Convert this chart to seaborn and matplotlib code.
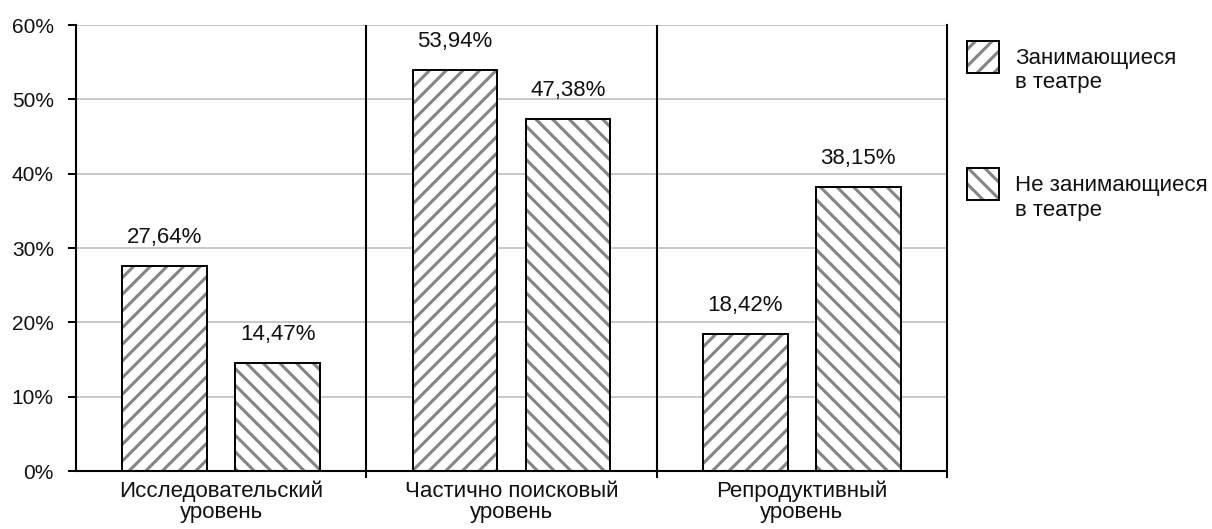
import pandas as pd
import seaborn as sns
import matplotlib.pyplot as plt
import matplotlib.patches as mpatches
from matplotlib.legend_handler import HandlerBase

categories = ['Исследовательский\nуровень', 'Частично поисковый\nуровень', 'Репродуктивный\nуровень']
groups = ['Занимающиеся\nв театре', 'Не занимающиеся\nв театре']
theatre = [27.64, 53.94, 18.42]
no_theatre = [14.47, 47.38, 38.15]
hatches = ['//', '\\\\']

df = pd.DataFrame({
    'category': categories * 2,
    'group': [groups[0]] * 3 + [groups[1]] * 3,
    'value': theatre + no_theatre,
})

sns.set_style('white')
plt.rcParams['font.family'] = ['Liberation Sans', 'DejaVu Sans']
plt.rcParams['hatch.linewidth'] = 2.2

hatch_gray = '#858585'


class HatchBoxHandler(HandlerBase):
    # square swatch sitting level with the first line of a two-line label
    def create_artists(self, legend, orig_handle, xdescent, ydescent, width, height, fontsize, trans):
        side = width
        y0 = fontsize * 0.98 - side / 2
        fill = mpatches.Rectangle((-xdescent, y0), side, side, facecolor='white',
                                  edgecolor=hatch_gray, hatch=orig_handle.get_hatch(),
                                  linewidth=0, transform=trans)
        edge = mpatches.Rectangle((-xdescent, y0), side, side, fill=False,
                                  edgecolor='black', linewidth=1.4, transform=trans)
        return [fill, edge]


fig = plt.figure(figsize=(12.12, 5.29), dpi=100)
ax = fig.add_axes([0.0627, 0.1096, 0.7187, 0.8431])

# bars: edge colour sets the hatch colour, outline drawn on top in black
sns.barplot(data=df, x='category', y='value', hue='group', order=categories,
            hue_order=groups, width=0.778, gap=0.25,
            palette=['white', 'white'], edgecolor=hatch_gray, linewidth=0,
            legend=False, ax=ax)

for container, h in zip(ax.containers, hatches):
    for bar in container:
        bar.set_hatch(h)
        ax.add_patch(mpatches.Rectangle(bar.get_xy(), bar.get_width(), bar.get_height(),
                                        fill=False, edgecolor='black', linewidth=1.4, zorder=4))
    ax.bar_label(container, labels=[f'{v:.2f}%'.replace('.', ',') for v in container.datavalues],
                 padding=13, fontsize=16, color='#111111')

ax.set_xlim(-0.5, 2.5)
ax.set_ylim(0, 60)
ax.set_yticks(range(0, 61, 10))
ax.set_yticklabels([f'{t}%' for t in range(0, 61, 10)], fontsize=15)
ax.yaxis.grid(True, color='#c4c4c4', linewidth=1.3)
ax.set_axisbelow(True)
ax.set_xlabel('')
ax.set_ylabel('')
ax.tick_params(axis='x', length=0, labelsize=16, pad=7)
for lbl in ax.get_xticklabels():
    lbl.set_linespacing(1.0)
    lbl.set_color('#111111')
ax.tick_params(axis='y', direction='out', length=6, width=1.4, color='black', left=True, pad=10,
               labelcolor='#111111')
ax.set_xticks([0.5, 1.5, 2.5], minor=True)
ax.tick_params(axis='x', which='minor', direction='out', length=5, width=1.4, color='black', bottom=True)

for x in [0.5, 1.5]:
    ax.axvline(x, color='black', linewidth=1.5, zorder=3)

ax.spines['top'].set_visible(False)
for s in ['left', 'bottom', 'right']:
    ax.spines[s].set_color('black')
    ax.spines[s].set_linewidth(1.5)
    ax.spines[s].set_zorder(5)

handles = [mpatches.Patch(facecolor='white', edgecolor=hatch_gray, hatch=h) for h in hatches]
fig.legend(handles, groups, loc='upper left', bbox_to_anchor=(0.781, 0.947),
           frameon=False, fontsize=16, handlelength=1.45, handleheight=1.45,
           handletextpad=0.75, labelspacing=3.7, labelcolor='#111111',
           handler_map={mpatches.Patch: HatchBoxHandler()})

fig.savefig('out.png', dpi=100)
